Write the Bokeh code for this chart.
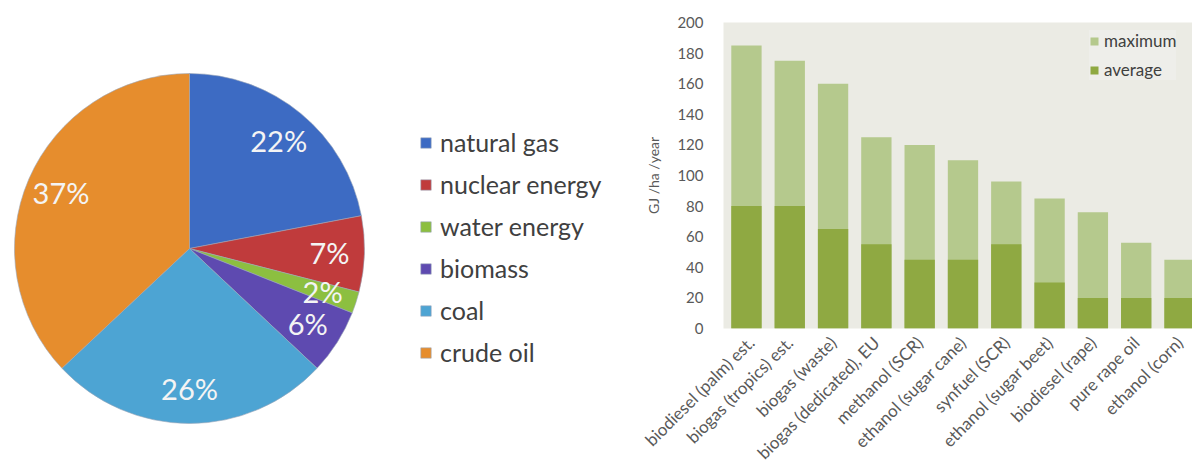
import math
from bokeh.plotting import figure
from bokeh.layouts import row
from bokeh.models import (ColumnDataSource, Range1d, Legend, LegendItem,
                          FixedTicker)
from bokeh.core.properties import value
from bokeh.embed import file_html
from bokeh.resources import INLINE

# ---------------- data ----------------
sources = ["natural gas", "nuclear energy", "water energy", "biomass", "coal", "crude oil"]
shares = [22, 7, 2, 6, 26, 37]
pie_colors = ["#3D6BC3", "#C03B3C", "#8CBF40", "#5E4AB0", "#4DA4D3", "#E68D2D"]

fuels = ["biodiesel (palm) est.", "biogas (tropics) est.", "biogas (waste)",
         "biogas (dedicated), EU", "methanol (SCR)", "ethanol (sugar cane)",
         "synfuel (SCR)", "ethanol (sugar beet)", "biodiesel (rape)",
         "pure rape oil", "ethanol (corn)"]
maximum = [185, 175, 160, 125, 120, 110, 96, 85, 76, 56, 45]
average = [80, 80, 65, 55, 45, 45, 55, 30, 20, 20, 20]
y_ticks = [0, 20, 40, 60, 80, 100, 120, 140, 160, 180, 200]

FONT = "Lato"

# ---------------- pie ----------------
W1, H = 640, 473
pie = figure(width=W1, height=H, output_backend="svg", toolbar_location=None,
             x_range=Range1d(0, W1), y_range=Range1d(0, H),
             min_border=0, outline_line_color=None, frame_align=False)
pie.axis.visible = False
pie.grid.visible = False

cx, cy, r = 189, H - 248, 175
total = float(sum(shares))
starts, ends, lx, ly, labels = [], [], [], [], []
acc = 0.0
for s in shares:
    a0 = math.pi / 2 - 2 * math.pi * acc / total
    a1 = math.pi / 2 - 2 * math.pi * (acc + s) / total
    mid = (a0 + a1) / 2
    starts.append(a0)
    ends.append(a1)
    lx.append(cx + 0.8 * r * math.cos(mid))
    ly.append(cy + 0.8 * r * math.sin(mid))
    labels.append(f"{s}%")
    acc += s

src = ColumnDataSource(dict(start=starts, end=ends, color=pie_colors, name=sources,
                            lx=lx, ly=ly, label=labels))
wr = pie.wedge(x=cx, y=cy, radius=r, start_angle="start", end_angle="end",
               direction="clock", fill_color="color", line_color="#9aa6b8",
               line_width=0.6, source=src)
pie.text(x="lx", y="ly", text="label", source=src, text_color="#F4F4F4",
         text_font=value(FONT), text_font_size="29px",
         text_align="center", text_baseline="middle")

items = [LegendItem(label=n, renderers=[wr], index=i) for i, n in enumerate(sources)]
leg = Legend(items=items, location=(419, 106), orientation="vertical",
             glyph_width=13, glyph_height=13, label_height=22,
             label_text_font=FONT, label_text_font_size="25px",
             label_text_color="#404040", spacing=12, label_standoff=8,
             background_fill_alpha=0, border_line_color=None, padding=0, margin=0)
pie.add_layout(leg)

# ---------------- bars ----------------
W2 = 1192 - W1
xs = [i + 0.5 for i in range(len(fuels))]
bsrc = ColumnDataSource(dict(x=xs, mx=maximum, av=average, name=fuels))
bar = figure(width=W2, height=H, output_backend="svg", toolbar_location=None,
             x_range=Range1d(-0.03, 10.8), y_range=Range1d(0, 200),
             min_border_left=83, min_border_right=0, min_border_top=22,
             min_border_bottom=145, outline_line_color=None,
             background_fill_color="#EBEBE4", frame_align=False)
bar.grid.visible = False
rm = bar.vbar(x="x", top="mx", width=0.7, bottom=0, source=bsrc,
              fill_color="#B5C98D", line_color=None)
ra = bar.vbar(x="x", top="av", width=0.7, bottom=0, source=bsrc,
              fill_color="#8FA942", line_color=None)

bar.xaxis.ticker = FixedTicker(ticks=xs)
bar.xaxis.major_label_overrides = {x: f for x, f in zip(xs, fuels)}
bar.xaxis.major_label_orientation = math.pi / 4
bar.xaxis.major_label_text_font = FONT
bar.xaxis.major_label_text_font_size = "17px"
bar.xaxis.major_label_text_color = "#595959"
bar.xaxis.axis_line_color = None
bar.xaxis.major_tick_line_color = None
bar.xaxis.minor_tick_line_color = None

bar.yaxis.ticker = FixedTicker(ticks=y_ticks)
bar.yaxis.axis_label = "GJ /ha /year"
bar.yaxis.axis_label_text_font = FONT
bar.yaxis.axis_label_text_font_style = "normal"
bar.yaxis.axis_label_text_font_size = "14px"
bar.yaxis.axis_label_text_color = "#595959"
bar.yaxis.axis_label_standoff = 12
bar.yaxis.major_label_text_font = FONT
bar.yaxis.major_label_text_font_size = "15px"
bar.yaxis.major_label_text_color = "#595959"
bar.yaxis.axis_line_color = None
bar.yaxis.major_tick_line_color = None
bar.yaxis.minor_tick_line_color = None
bar.yaxis.major_label_standoff = 14

bleg = Legend(items=[LegendItem(label="maximum", renderers=[rm]),
                     LegendItem(label="average", renderers=[ra])],
              location=(366, 248), glyph_width=10, glyph_height=10,
              label_height=14, label_text_font=FONT, label_text_font_size="17px",
              label_text_color="#404040", spacing=8, label_standoff=5,
              background_fill_color="#EEEEEA", background_fill_alpha=1,
              border_line_color=None, padding=6, margin=0)
bar.add_layout(bleg)

layout = row(pie, bar, spacing=0)
open("out.html", "w").write(file_html(layout, INLINE))
